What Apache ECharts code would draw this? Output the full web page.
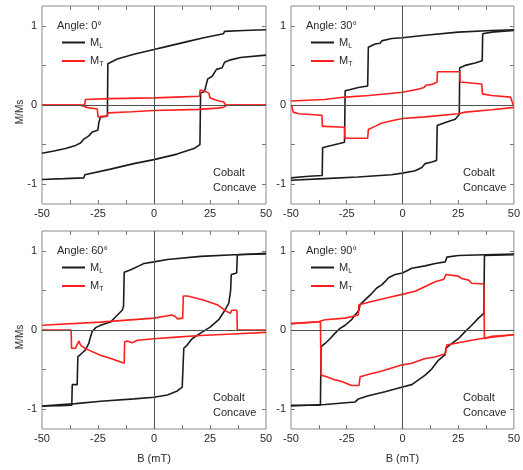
<!DOCTYPE html>
<html><head><meta charset="utf-8">
<script src="https://cdn.jsdelivr.net/npm/echarts@6/dist/echarts.min.js"></script>
<style>html,body{margin:0;padding:0;background:#fff}#c{width:523px;height:470px}</style>
</head><body><div id="c"></div>
<script>
// ---------- tick labels ----------
const xTickLabels = [-50, -25, 0, 25, 50];
const xTickMarks = [-37.5, -25, -12.5, 0, 12.5, 25, 37.5];
const yTickLabels = [-1, 0, 1];
const yTickMarks = [-1, -0.5, 0, 0.5, 1];
const angleLabels = ['Angle: 0°', 'Angle: 30°', 'Angle: 60°', 'Angle: 90°'];

// ---------- Angle 0° ----------
const ML0_down = [[50,0.95],[40,0.94],[31.5,0.93],[31,0.90],[22.2,0.85],[14.8,0.80],[5.9,0.74],[0,0.70],[-9,0.64],[-16.4,0.58],[-20.6,0.52],[-20.8,-0.14],[-23.9,-0.15],[-24.6,-0.22],[-25.1,-0.32],[-27.6,-0.34],[-29.1,-0.39],[-31.3,-0.43],[-32.8,-0.48],[-35,-0.51],[-39.5,-0.55],[-44.7,-0.58],[-50,-0.61]];
const ML0_up = [[-50,-0.94],[-40,-0.93],[-31.3,-0.92],[-30.9,-0.88],[-19.4,-0.81],[-9,-0.74],[0,-0.69],[10.3,-0.62],[17.8,-0.55],[20.5,-0.50],[20.8,0.15],[22.5,0.17],[24,0.33],[25.9,0.36],[27.9,0.45],[30.4,0.47],[31.5,0.54],[34.2,0.57],[38.6,0.60],[50,0.63]];
const MT0_down = [[50,0],[33,0],[32,-0.01],[31,-0.03],[28,-0.04],[20,-0.055],[0,-0.07],[-10,-0.085],[-20.5,-0.10],[-21,-0.14],[-25,-0.15],[-25.3,-0.05],[-28,-0.04],[-30,-0.03],[-32,-0.01],[-34,0],[-50,0]];
const MT0_up = [[-50,0],[-33,0],[-31,0],[-30.6,0.07],[-20,0.08],[0,0.09],[10,0.10],[20.3,0.11],[20.6,0.19],[22,0.18],[24.5,0.15],[25,0.09],[27,0.07],[29,0.05],[31,0.04],[32,0],[50,0]];

// ---------- Angle 30° ----------
const ML30_down = [[50,0.95],[40,0.94],[25,0.92],[10.2,0.88],[0,0.85],[-4.8,0.84],[-9.3,0.81],[-10,0.78],[-12.3,0.77],[-15.3,0.73],[-15.6,0.24],[-19.8,0.22],[-22.8,0.20],[-25.7,0.18],[-26,-0.47],[-28.7,-0.49],[-34.7,-0.53],[-35.8,-0.54],[-36,-0.89],[-42,-0.90],[-50,-0.92]];
const ML30_up = [[-50,-0.95],[-35,-0.93],[-20,-0.91],[-5,-0.88],[0,-0.86],[5.7,-0.83],[8.7,-0.79],[10.2,-0.74],[13.2,-0.72],[15.3,-0.70],[15.6,-0.26],[19.2,-0.22],[23.7,-0.18],[25.5,-0.12],[25.7,0.47],[28.1,0.50],[32.6,0.53],[35.8,0.56],[36,0.90],[40,0.92],[50,0.94]];
const MT30_down = [[50,-0.03],[40,-0.06],[28.2,-0.09],[25,-0.11],[10.2,-0.15],[0,-0.17],[-4.8,-0.20],[-9.5,-0.23],[-12.3,-0.27],[-15.3,-0.31],[-15.6,-0.42],[-25.8,-0.42],[-26,-0.28],[-34.7,-0.27],[-35.9,-0.27],[-36.1,-0.13],[-46.7,-0.11],[-49,-0.09],[-49.8,0],[-50,0]];
const MT30_up = [[-50,0.05],[-35,0.07],[-25.7,0.10],[-15,0.12],[0,0.16],[7,0.20],[9.7,0.22],[10.5,0.25],[13.4,0.26],[15.5,0.29],[15.7,0.42],[25.7,0.42],[25.9,0.29],[35.6,0.265],[35.9,0.14],[40,0.12],[48.5,0.10],[49.7,0],[50,0]];

// ---------- Angle 60° ----------
const ML60_down = [[50,0.96],[35.7,0.95],[20.8,0.93],[6,0.89],[0,0.86],[-4.5,0.84],[-6.7,0.81],[-8.9,0.78],[-11.2,0.75],[-13.3,0.73],[-13.6,0.30],[-14.2,0.25],[-17,0.17],[-19.4,0.10],[-23.9,0.06],[-26,0.03],[-27.6,-0.02],[-28.5,-0.10],[-29.1,-0.17],[-30.6,-0.25],[-32.1,-0.29],[-34,-0.34],[-34.3,-0.69],[-36.5,-0.69],[-36.7,-0.95],[-42,-0.955],[-50,-0.96]];
const ML60_up = [[-50,-0.96],[-35,-0.93],[-23.8,-0.90],[-8.9,-0.87],[0,-0.85],[6,-0.82],[10.4,-0.77],[12.6,-0.72],[13.1,-0.71],[13.3,-0.23],[14.8,-0.19],[17,-0.11],[20.8,-0.04],[25.2,0.04],[28.9,0.13],[31.2,0.23],[33.4,0.34],[34.2,0.50],[34.5,0.70],[36.9,0.72],[37.2,0.95],[50,0.97]];
const MT60_down = [[50,-0.03],[35,-0.05],[20.8,-0.07],[10,-0.09],[0,-0.11],[-7.4,-0.13],[-8.2,-0.15],[-9.7,-0.16],[-12,-0.14],[-13.1,-0.15],[-13.3,-0.42],[-19.3,-0.36],[-23.9,-0.32],[-30.6,-0.235],[-32.8,-0.19],[-33.5,-0.14],[-34,-0.13],[-34.6,-0.20],[-35,-0.23],[-36.8,-0.23],[-37,0],[-50,0]];
const MT60_up = [[-50,0.06],[-24,0.10],[0,0.15],[8,0.19],[9.5,0.17],[10.5,0.14],[12.8,0.15],[13.1,0.43],[15,0.43],[22,0.38],[28.2,0.32],[32.7,0.23],[34.2,0.21],[34.6,0.25],[37,0.25],[37.2,0],[50,0]];

// ---------- Angle 90° ----------
const ML90_down = [[50,0.96],[37.1,0.95],[25.1,0.94],[19.9,0.92],[19.2,0.86],[14.7,0.84],[10.2,0.81],[4.2,0.78],[0,0.72],[-3.3,0.70],[-6.3,0.66],[-7.5,0.62],[-9.3,0.57],[-11.5,0.53],[-13.8,0.46],[-16.8,0.38],[-19,0.32],[-19.5,0.25],[-21.3,0.19],[-22.8,0.13],[-25.7,0.06],[-28,0.02],[-30.2,-0.04],[-32.5,-0.11],[-34.7,-0.17],[-36.5,-0.21],[-36.8,-0.95],[-50,-0.95]];
const ML90_up = [[-50,-0.96],[-34.7,-0.94],[-21.3,-0.91],[-19.8,-0.87],[-15.3,-0.83],[-7.8,-0.78],[0,-0.72],[4.2,-0.69],[7.2,-0.63],[10.2,-0.57],[13.2,-0.49],[16.2,-0.38],[19.2,-0.31],[19.5,-0.23],[22.2,-0.17],[25.1,-0.11],[28.1,-0.02],[31.1,0.06],[34.1,0.15],[36.5,0.21],[36.8,0.94],[50,0.95]];
const MT90_down = [[50,-0.06],[37.1,-0.10],[31.1,-0.13],[25.1,-0.16],[19.9,-0.19],[19.2,-0.30],[14.7,-0.34],[10.2,-0.36],[4.2,-0.42],[0,-0.44],[-4.8,-0.48],[-10.8,-0.53],[-13.8,-0.55],[-19,-0.59],[-19.5,-0.70],[-22.8,-0.70],[-27.2,-0.65],[-30.2,-0.63],[-34,-0.59],[-36.5,-0.57],[-36.8,0.105],[-50,0.08]];
const MT90_up = [[-50,0.08],[-37.7,0.105],[-34.7,0.13],[-25.7,0.15],[-19.8,0.19],[-19.5,0.32],[-13.8,0.36],[-4.8,0.42],[0,0.45],[5.7,0.49],[10.2,0.55],[14.7,0.61],[18.6,0.64],[19.5,0.70],[25.1,0.68],[26.6,0.65],[29.6,0.63],[31.1,0.59],[36.5,0.58],[36.8,-0.11],[40.1,-0.08],[50,-0.06]];

const panelData = [
  {ML:[ML0_down, ML0_up], MT:[MT0_down, MT0_up]},
  {ML:[ML30_down, ML30_up], MT:[MT30_down, MT30_up]},
  {ML:[ML60_down, ML60_up], MT:[MT60_down, MT60_up]},
  {ML:[ML90_down, ML90_up], MT:[MT90_down, MT90_up]}
];

// ---------- layout ----------
const FONT = '"Liberation Sans", Arial, sans-serif';
const layout = [
  {left:42, top:6, width:224},
  {left:291, top:6, width:225},
  {left:42, top:231, width:224},
  {left:291, top:231, width:225}
];
const H = 198;
const BLACK = '#1c1c1c', RED = '#ff1f1f';

const grid = [], xAxis = [], yAxis = [], series = [], legend = [], graphic = [];
layout.forEach((L, i) => {
  grid.push({left:L.left, top:L.top, width:L.width, height:H, show:true, borderColor:'#8a8a8a', borderWidth:1, backgroundColor:'transparent'});
  const bottomRow = i >= 2;
  const tick = {show:true, inside:true, length:4, customValues:xTickMarks, lineStyle:{color:'#777', width:1}};
  xAxis.push({type:'value', gridIndex:i, min:-50, max:50, interval:12.5, position:'bottom',
    axisLine:{show:false, onZero:false}, splitLine:{show:false}, axisTick:tick,
    axisLabel:{customValues:xTickLabels, margin:4, fontSize:11, color:'#2a2a2a', fontFamily:FONT},
    name: bottomRow ? 'B (mT)' : '', nameLocation:'middle', nameGap:24,
    nameTextStyle:{fontSize:11, color:'#2a2a2a', fontFamily:FONT}});
  xAxis.push({type:'value', gridIndex:i, min:-50, max:50, interval:12.5, position:'top',
    axisLine:{show:false, onZero:false}, splitLine:{show:false}, axisTick:tick, axisLabel:{show:false}});
  const ytick = {show:true, inside:true, length:4, customValues:yTickMarks, lineStyle:{color:'#777', width:1}};
  yAxis.push({type:'value', gridIndex:i, min:-1.25, max:1.25, position:'left',
    axisLine:{show:false, onZero:false}, splitLine:{show:false}, axisTick:ytick,
    axisLabel:{customValues:yTickLabels, margin:5, fontSize:11, color:'#2a2a2a', fontFamily:FONT}});
  yAxis.push({type:'value', gridIndex:i, min:-1.25, max:1.25, position:'right',
    axisLine:{show:false, onZero:false}, splitLine:{show:false}, axisTick:ytick, axisLabel:{show:false}});

  // zero reference lines
  series.push({type:'line', xAxisIndex:2*i, yAxisIndex:2*i, data:[], silent:true, z:1,
    markLine:{silent:true, symbol:'none', animation:false, label:{show:false},
      lineStyle:{color:'#505050', width:1, type:'solid'},
      data:[{xAxis:0},{yAxis:0}]}});

  const P = panelData[i];
  P.ML.forEach(d => series.push({name:'ML'+i, type:'line', xAxisIndex:2*i, yAxisIndex:2*i, data:d,
    symbol:'none', lineStyle:{color:BLACK, width:1.6}, itemStyle:{color:BLACK}, z:3, animation:false}));
  P.MT.forEach(d => series.push({name:'MT'+i, type:'line', xAxisIndex:2*i, yAxisIndex:2*i, data:d,
    symbol:'none', lineStyle:{color:RED, width:1.6}, itemStyle:{color:RED}, z:4, animation:false}));

  legend.push({data:['ML'+i, 'MT'+i], orient:'vertical', left:L.left+15, top:L.top+26,
    icon:'rect', itemWidth:23, itemHeight:2, itemGap:6, selectedMode:false,
    formatter: n => n.startsWith('ML') ? '{m|M}{s|L}' : '{m|M}{s|T}',
    textStyle:{fontFamily:FONT, color:'#2a2a2a', rich:{
      m:{fontSize:11, fontFamily:FONT, color:'#2a2a2a'},
      s:{fontSize:7, fontFamily:FONT, color:'#2a2a2a', verticalAlign:'bottom', padding:[7,0,0,0]}}}});

  graphic.push({type:'text', left:L.left+15, top:L.top+14,
    style:{text:angleLabels[i], font:'11px ' + FONT, fill:'#2a2a2a'}});
  graphic.push({type:'text', left:L.left+L.width-53, top:L.top+159,
    style:{text:'Cobalt\nConcave', font:'11px ' + FONT, fill:'#2a2a2a', lineHeight:15}});
});

// y-axis titles
[112, 337].forEach(cy => graphic.push({type:'text', x:20, y:cy, rotation:Math.PI/2,
  style:{text:'M/Ms', font:'10px ' + FONT, fill:'#2a2a2a', textAlign:'center', textVerticalAlign:'middle'}}));

const chart = echarts.init(document.getElementById('c'), null, {renderer:'canvas'});
chart.setOption({animation:false, backgroundColor:'#fff', grid, xAxis, yAxis, series, legend, graphic});
</script></body></html>
